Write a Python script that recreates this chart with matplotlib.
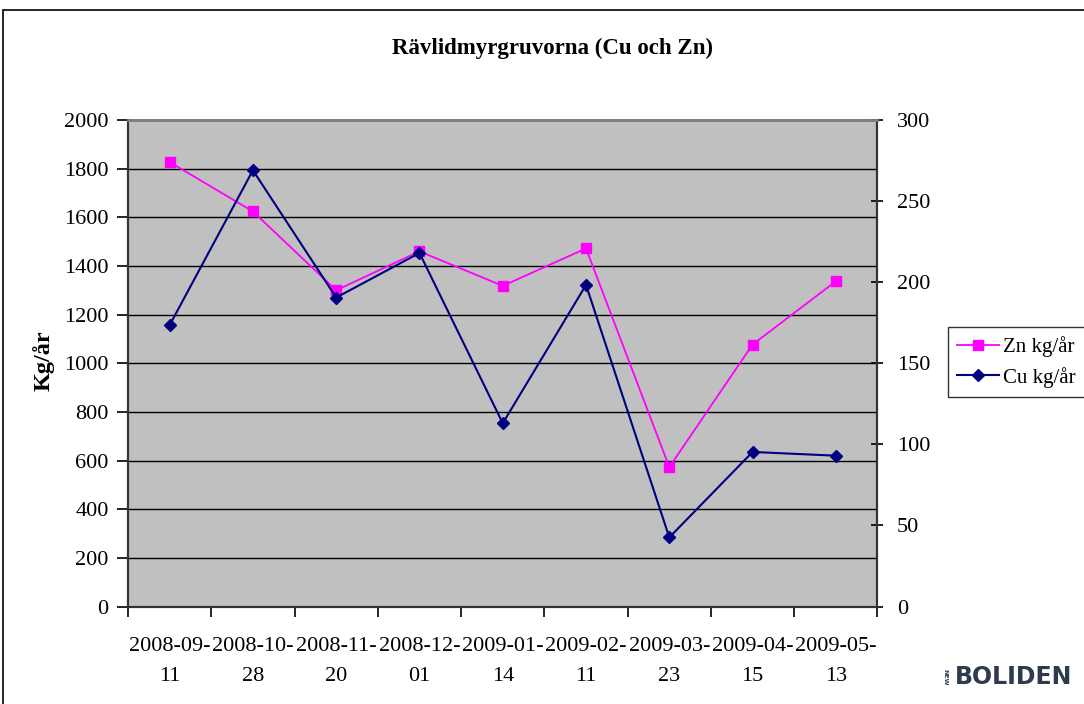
import matplotlib
matplotlib.use("Agg")
import matplotlib.pyplot as plt
from matplotlib.patches import Rectangle
from matplotlib.ticker import FixedLocator, MultipleLocator

dates = ["2008-09-\n11", "2008-10-\n28", "2008-11-\n20", "2008-12-\n01", "2009-01-\n14",
         "2009-02-\n11", "2009-03-\n23", "2009-04-\n15", "2009-05-\n13"]
zn = [1827, 1624, 1300, 1460, 1318, 1472, 573, 1077, 1337]
cu = [173.5, 269, 190.5, 218, 113, 198.3, 42.6, 95.3, 93]

plt.rcParams['font.family'] = ['Liberation Serif', 'DejaVu Serif']

fig = plt.figure(figsize=(10.84, 7.04), dpi=100)
W, H = 1084, 704
ax = fig.add_axes([128 / W, 1 - 606.5 / H, (877.5 - 128) / W, (606.5 - 120) / H])
ax.set_facecolor('#C0C0C0')
ax2 = ax.twinx()

x = list(range(len(dates)))
ax.plot(x, zn, color='#FF00FF', lw=1.3, marker='s', ms=7.5, mec='#FF00FF', mfc='#FF00FF',
        label='Zn kg/år', zorder=3)
ax2.plot(x, cu, color='#000080', lw=1.5, marker='D', ms=6.5, mec='#000080', mfc='#000080',
         label='Cu kg/år', zorder=3)

ax.set_xlim(-0.5, len(dates) - 0.5)
ax.set_ylim(0, 2000)
ax2.set_ylim(0, 300)
ax.yaxis.set_major_locator(MultipleLocator(200))
ax2.yaxis.set_major_locator(MultipleLocator(50))
ax.grid(axis='y', color='black', lw=1.0)
ax.set_axisbelow(True)

ax.set_xticks(x)
ax.set_xticklabels(dates, fontsize=16, linespacing=1.75)
ax.xaxis.set_minor_locator(FixedLocator([i - 0.5 for i in range(len(dates) + 1)]))
ax.tick_params(axis='x', which='major', length=0, pad=22)
ax.tick_params(axis='x', which='minor', length=7, width=1.2, direction='out')
ax.tick_params(axis='y', which='major', labelsize=16, length=8, width=1.2, direction='out', pad=6)
ax2.tick_params(axis='y', which='major', labelsize=16, length=8, width=1.2, direction='inout', pad=10)

for a in (ax, ax2):
    a.spines['top'].set_color('#808080')
    a.spines['top'].set_linewidth(2)
    for s in ('left', 'right', 'bottom'):
        a.spines[s].set_color('#333333')
        a.spines[s].set_linewidth(1.5)

fig.text(44 / W, 1 - 361 / H, 'Kg/år', rotation=90, ha='center', va='center',
         fontsize=17.5, fontweight='bold')
fig.text(552 / W, 1 - 48 / H, 'Rävlidmyrgruvorna (Cu och Zn)', ha='center', va='center',
         fontsize=16.5, fontweight='bold')

h1, l1 = ax.get_legend_handles_labels()
h2, l2 = ax2.get_legend_handles_labels()
leg = fig.legend(h1 + h2, l1 + l2, loc='upper left', bbox_to_anchor=(948 / W, 1 - 327 / H),
                 bbox_transform=fig.transFigure, fontsize=15, frameon=True, fancybox=False,
                 edgecolor='black', borderaxespad=0, handlelength=2.0, borderpad=0.45,
                 labelspacing=0.45, handletextpad=0.2)
leg.get_frame().set_linewidth(1.0)

# outer chart border
fig.patches.append(Rectangle((3 / W, -0.05), 1.2, 1 - 10 / H + 0.05, transform=fig.transFigure,
                             fill=False, edgecolor='black', lw=1.2))

# logo
fig.text(1072 / W, 1 - 677 / H, 'BOLIDEN', ha='right', va='center', fontsize=17,
         fontweight='bold', family=['DejaVu Sans'], color='#2E3A4E')
fig.text(945 / W, 1 - 677 / H, 'NEW', ha='center', va='center', fontsize=4.5,
         fontweight='bold', family=['DejaVu Sans'], color='#2E3A4E', rotation=270)

fig.savefig('out.png', dpi=100)
